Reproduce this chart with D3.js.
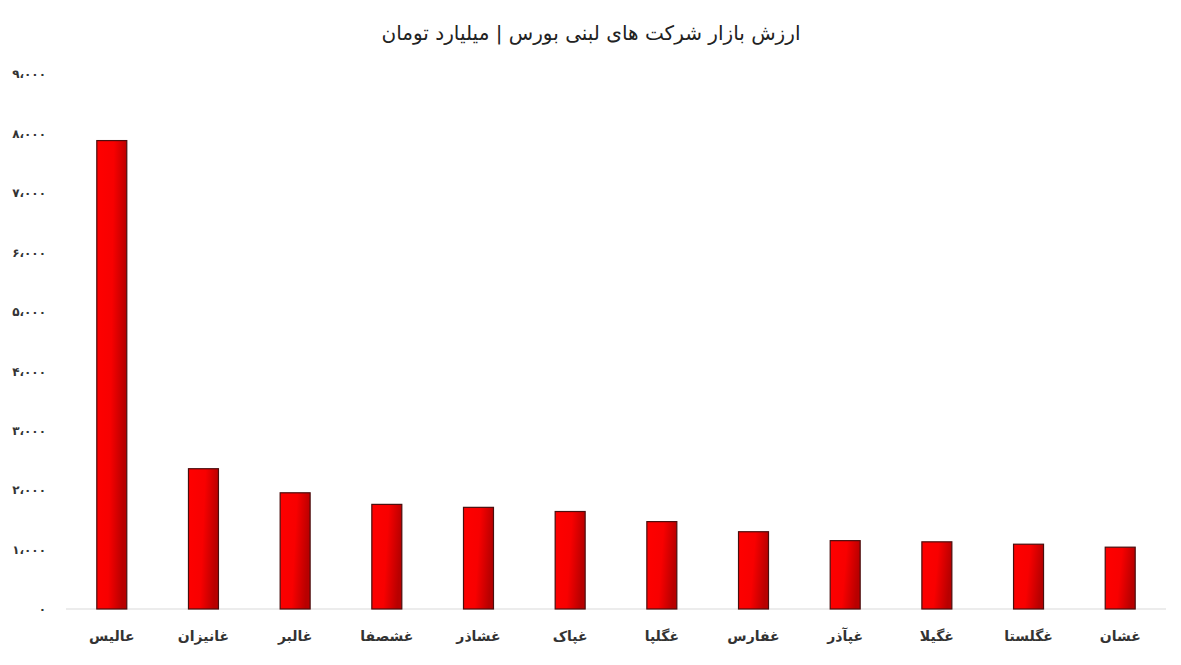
<!DOCTYPE html>
<html>
<head>
<meta charset="utf-8">
<script src="https://cdn.jsdelivr.net/npm/d3@7"></script>
<style>
  body { margin: 0; background: #fff; }
  svg { display: block; font-family: "DejaVu Sans", sans-serif; }
</style>
</head>
<body>
<div id="chart"></div>
<script>
// نمادها و ارزش بازار (میلیارد تومان)
const symbols = ['عالیس', 'غانیزان', 'غالبر', 'غشصفا', 'غشاذر', 'غپاک', 'غگلپا', 'غفارس', 'غپآذر', 'غگیلا', 'غگلستا', 'غشان'];
const marketValues = [7880, 2360, 1955, 1760, 1710, 1640, 1470, 1300, 1150, 1130, 1090, 1040];
const yTicks = [0, 1000, 2000, 3000, 4000, 5000, 6000, 7000, 8000, 9000];
const title = 'ارزش بازار شرکت های لبنی بورس | میلیارد تومان';

const W = 1181, H = 665;
const margin = { top: 74, right: 15, bottom: 56, left: 66 };
const width = W - margin.left - margin.right;
const height = H - margin.top - margin.bottom;

const faDigits = '۰۱۲۳۴۵۶۷۸۹';
const toFa = s => s.replace(/\d/g, d => faDigits[+d]).replace(/,/g, '،');
const fmt = v => toFa(d3.format(',')(v));

const svg = d3.select('#chart').append('svg')
    .attr('width', W).attr('height', H);

// گرادیان ستون ها
const grad = svg.append('defs').append('linearGradient')
    .attr('id', 'barGrad')
    .attr('x1', '0%').attr('y1', '0%').attr('x2', '100%').attr('y2', '20%');
grad.append('stop').attr('offset', '0%').attr('stop-color', '#ff0000');
grad.append('stop').attr('offset', '55%').attr('stop-color', '#f80000');
grad.append('stop').attr('offset', '100%').attr('stop-color', '#b80000');

svg.append('text')
    .attr('x', 591).attr('y', 40)
    .attr('text-anchor', 'middle')
    .attr('font-size', '20px')
    .attr('fill', '#222')
    .text(title);

const g = svg.append('g')
    .attr('transform', `translate(${margin.left},${margin.top})`);

const x = d3.scaleBand()
    .domain(symbols)
    .range([0, width])
    .paddingInner(0.673)
    .paddingOuter(0.336);

const y = d3.scaleLinear()
    .domain([0, 9000])
    .range([height, 0]);

// محور عمودی
const yAxis = g.append('g')
    .call(d3.axisLeft(y).tickValues(yTicks).tickSize(0).tickPadding(20).tickFormat(fmt));
yAxis.select('.domain').remove();
yAxis.selectAll('text')
    .attr('font-size', '12px')
    .attr('font-weight', 'bold')
    .attr('fill', '#333')
    .attr('font-family', '"DejaVu Sans", sans-serif');

// خط پایه
g.append('line')
    .attr('x1', 0).attr('x2', width)
    .attr('y1', y(0)).attr('y2', y(0))
    .attr('stroke', '#d9d9d9')
    .attr('stroke-width', 1);

// ستون ها
g.selectAll('.bar')
    .data(symbols)
    .join('rect')
    .attr('class', 'bar')
    .attr('x', d => x(d))
    .attr('y', (d, i) => y(marketValues[i]))
    .attr('width', x.bandwidth())
    .attr('height', (d, i) => y(0) - y(marketValues[i]))
    .attr('fill', 'url(#barGrad)')
    .attr('stroke', '#4a0e0e')
    .attr('stroke-width', 1.2);

// برچسب های محور افقی
const xAxis = g.append('g')
    .attr('transform', `translate(0,${height})`)
    .call(d3.axisBottom(x).tickSize(0).tickPadding(22));
xAxis.select('.domain').remove();
xAxis.selectAll('text')
    .attr('font-size', '14px')
    .attr('font-weight', 'bold')
    .attr('fill', '#333')
    .attr('font-family', '"DejaVu Sans", sans-serif');
</script>
</body>
</html>
